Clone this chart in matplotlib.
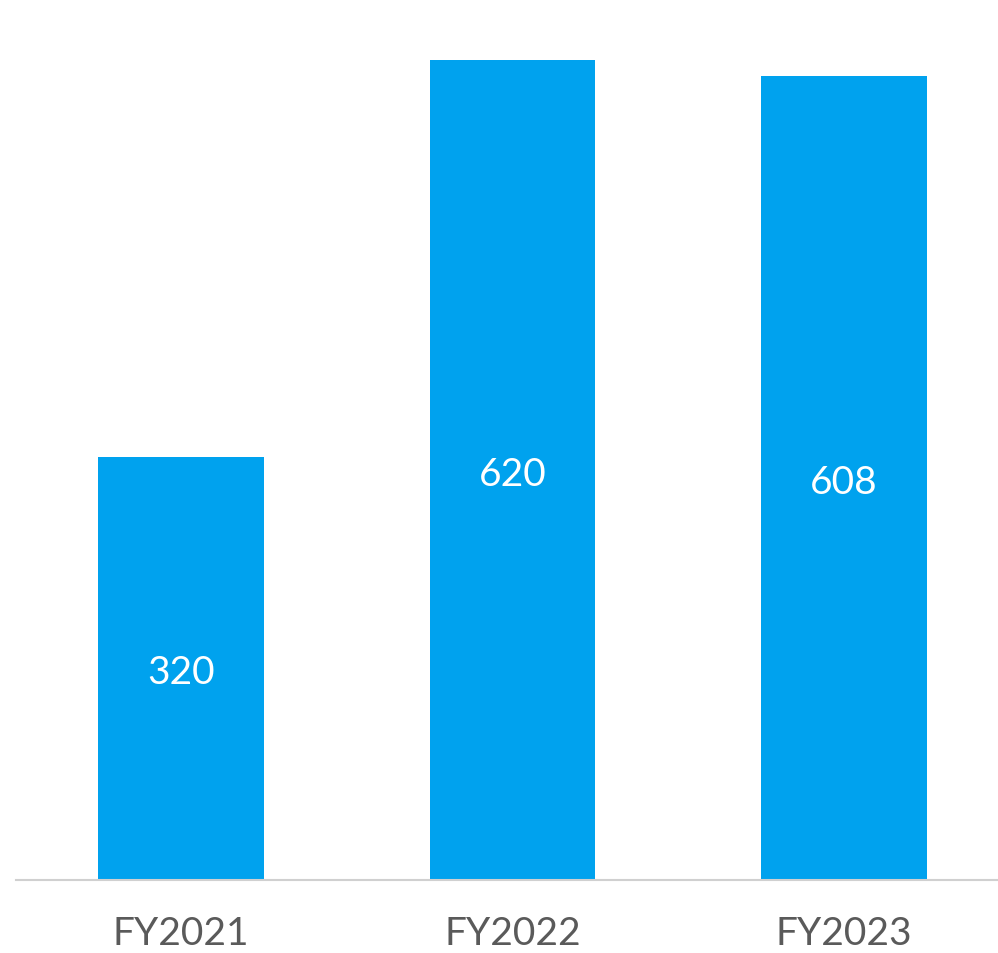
import matplotlib.pyplot as plt
import numpy as np

years = ['FY2021', 'FY2022', 'FY2023']
values = [320, 620, 608]

bar_color = '#00A2EE'
text_color = '#5A5A5A'

fig = plt.figure(figsize=(9.98, 9.54), dpi=100)
ax = fig.add_axes([16 / 998, 73 / 954, 982 / 998, 881 / 954])

x = np.arange(len(years))
bars = ax.bar(x, values, width=0.5, color=bar_color)

# value labels sit in the middle of each bar
for rect, v in zip(bars, values):
    ax.text(rect.get_x() + rect.get_width() / 2, v / 2 - 3, str(v),
            ha='center', va='center', color='white',
            fontsize=28, family='Lato', fontweight='normal')

ax.set_xlim(-0.498, 2.4646)
ax.set_ylim(0, 666)
ax.set_xticks(x)
ax.set_xticklabels(years, fontsize=28, family='Lato', fontweight='normal', color=text_color)
ax.tick_params(axis='x', length=0, pad=25)
ax.set_yticks([])

for side in ['top', 'left', 'right']:
    ax.spines[side].set_visible(False)
ax.spines['bottom'].set_color('#D0D0D0')
ax.spines['bottom'].set_linewidth(1.5)

fig.savefig('out.png', dpi=100)
